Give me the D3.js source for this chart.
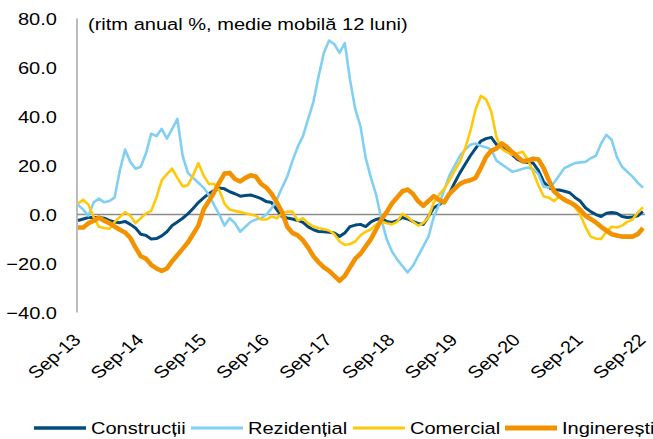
<!DOCTYPE html>
<html>
<head>
<meta charset="utf-8">
<script src="https://cdn.jsdelivr.net/npm/d3@7"></script>
<style>
  body { margin: 0; background: #fff; }
  text { font-family: "Liberation Sans", Arial, sans-serif; fill: #000; }
</style>
</head>
<body>
<svg width="653" height="439"></svg>
<script>
const constructii = [
  -2.4, -1.8, -1.2, -1.2, -1.2, -1.5, -2.4, -3, -3.3, -2.8, -4, -5.5,
  -8, -8.5, -10, -9.8, -8.7, -7, -4.5, -3, -1.5, 0.3, 2.5, 4.9,
  6.8, 8.5, 9.8, 10.8, 10.5, 9.3, 8.5, 7.5, 7.8, 8, 7.3, 6.5,
  5.3, 4.9, 2, -0.8, -1.4, -1.8, -2.4, -3.2, -5, -6.2, -6.9, -7,
  -7.2, -7.5, -8.9, -7.5, -4.9, -4.3, -4, -4.9, -3, -2, -1.4, -2.8,
  -3.2, -2.5, -1.2, -1.8, -2.8, -3.6, -4, -0.8, 2.8, 4, 5.5, 8.5,
  13, 17, 20.5, 24, 27, 30, 31, 31.5, 28.5, 27.5, 26, 24.4,
  22.5, 21.5, 21.2, 21, 18, 13.4, 11, 10, 10, 9.5, 8.9, 7,
  5.5, 2.8, 1.2, 0, -0.8, 0.5, 0.8, 0.5, -0.8, -1.2, -1, -0.5, 1.2
];
const rezidential = [
  4, 2, -0.5, 5, 6.5, 5, 5.5, 7, 18, 26.5, 21.5, 18.7,
  19.5, 25, 33, 32, 35, 31, 35, 39, 24, 17, 15, 13,
  11, 8, 4, 0, -4.5, -1.5, -3.5, -7, -5, -3, -2, -1.5,
  0, 2.5, 6, 11, 15.5, 22, 27.6, 32, 39, 46, 56.5, 66,
  71, 69.5, 66, 70, 55, 43, 36, 23, 15, 8, -2, -10,
  -15, -18.3, -21, -23.6, -21, -17, -13, -9, -1, 4, 10, 16,
  20, 24, 26.5, 28.5, 29, 28, 27.5, 26.4, 22, 20.5, 19, 17.5,
  18, 18.7, 19.2, 18.5, 16.5, 11.4, 11, 13, 16, 19, 20, 21,
  21.3, 21.5, 23, 24, 29, 32.5, 30.5, 23.5, 19.5, 17.5, 15.5, 13, 11
];
const comercial = [
  4.5, 6, 4, -1, -5, -5.5, -5.8, -3, -1, 1, -0.5, -3.5,
  -1.5, 0.5, 1.5, 7, 14, 16.5, 18.7, 15, 11.5, 12, 16, 21,
  16, 12.5, 12.5, 10, 4.5, 2, 1.5, 1, 0.5, 0, -0.5, -2,
  -2, -0.8, -1.5, 0.5, 1.2, 1.2, -2.5, -1.5, -3.5, -4.9, -5.5, -6,
  -6.5, -8, -11, -12.4, -12, -11, -8.5, -7, -6, -4, -2.8, -3.5,
  -4, -3, 0.3, -1, -2.8, -4.5, -3.5, -1, 4.9, 8, 10.5, 14,
  18, 21.5, 27, 34, 43, 48.4, 47, 42, 31.5, 26.8, 25.5, 24.4,
  25, 25.6, 22.4, 17.5, 12, 7.5, 6.9, 5.5, 7.5, 6.5, 5, 3,
  0, -5, -9, -9.8, -10, -7, -5, -5.3, -4.5, -3, -2, 0.8, 3
];
const ingineresti = [
  -5.3, -5.3, -3.5, -2.5, -1.2, -2.5, -3.5, -4.9, -6.2, -7.3, -9.5, -13.5,
  -17, -18, -20.5, -22, -23, -22, -19, -16.5, -14, -11.4, -8, -4.5,
  2, 5.5, 9, 13, 16.7, 17, 14.5, 13.5, 15, 16, 15.5, 12.5,
  11, 8.5, 5, 1, -5, -7.5, -8.5, -10.5, -13.5, -17, -19.5, -21.5,
  -23, -25, -27, -25, -21.5, -18, -16, -13, -10, -6, -2, 1,
  4.5, 7, 9.5, 10.2, 8.5, 5.5, 3.6, 5.5, 7.5, 6, 5, 8.5,
  10.5, 12.5, 13.5, 14, 15, 19, 23.5, 26, 27, 29, 27.5, 25.5,
  23.6, 21.8, 22, 22.8, 22.5, 19, 14, 9.5, 7.5, 6, 5, 3.8,
  2, -0.5, -1.8, -3.2, -5, -6.5, -8, -8.5, -9, -9, -9, -8, -5.5
];
const yTicks = [80, 60, 40, 20, 0, -20, -40];
const xTickLabels = ['Sep-13', 'Sep-14', 'Sep-15', 'Sep-16', 'Sep-17', 'Sep-18', 'Sep-19', 'Sep-20', 'Sep-21', 'Sep-22'];
const seriesNames = ['Construcții', 'Rezidențial', 'Comercial', 'Inginerești'];
const title = '(ritm anual %, medie mobilă 12 luni)';

const months = d3.range(constructii.length);
const series = [
  { name: seriesNames[0], values: constructii, color: '#024b7a', width: 3 },
  { name: seriesNames[1], values: rezidential, color: '#82cff4', width: 2.6 },
  { name: seriesNames[2], values: comercial, color: '#ffc90a', width: 2.6 },
  { name: seriesNames[3], values: ingineresti, color: '#f39200', width: 4.6 }
];

const sx = 1.18; // text in the reference is stretched horizontally
const svg = d3.select('svg');
const x = d3.scaleLinear().domain([0, months.length - 1]).range([78, 643]);
const y = d3.scaleLinear().domain([-40, 80]).range([312.6, 18.5]);

// y axis line and labels
svg.append('line')
  .attr('x1', 77).attr('x2', 77)
  .attr('y1', y(80)).attr('y2', y(-40))
  .attr('stroke', '#a6a6a6').attr('stroke-width', 1.5);

svg.selectAll('.ylab')
  .data(yTicks)
  .enter()
  .append('text')
  .attr('class', 'ylab')
  .attr('transform', (d) => `translate(57,${y(d) + 6}) scale(${sx},1)`)
  .attr('text-anchor', 'end')
  .attr('font-size', '17px')
  .text((d) => d3.format('.1f')(d));

// zero line
svg.append('line')
  .attr('x1', 77).attr('x2', 645)
  .attr('y1', y(0)).attr('y2', y(0))
  .attr('stroke', '#8c8c8c').attr('stroke-width', 1.5);

// x labels
svg.selectAll('.xlab')
  .data(xTickLabels)
  .enter()
  .append('text')
  .attr('class', 'xlab')
  .attr('transform', (d, i) => `translate(${x(i * 12) + 4},341) scale(${sx},1) rotate(-45)`)
  .attr('text-anchor', 'end')
  .attr('font-size', '17px')
  .text((d) => d);

// lines
const line = d3.line()
  .x((d, i) => x(i))
  .y((d) => y(d));

svg.selectAll('.series')
  .data(series)
  .enter()
  .append('path')
  .attr('class', 'series')
  .attr('fill', 'none')
  .attr('stroke', (d) => d.color)
  .attr('stroke-width', (d) => d.width)
  .attr('stroke-linejoin', 'round')
  .attr('d', (d) => line(d.values));

// title
svg.append('text')
  .attr('transform', `translate(88,30) scale(${sx},1)`)
  .attr('font-size', '17px')
  .text(title);

// legend
const legendX = [34, 191, 353, 505];
const leg = svg.selectAll('.leg')
  .data(series)
  .enter()
  .append('g')
  .attr('class', 'leg')
  .attr('transform', (d, i) => `translate(${legendX[i]},428)`);
leg.append('line')
  .attr('x1', 0).attr('x2', 52)
  .attr('stroke', (d) => d.color)
  .attr('stroke-width', (d) => d.width + 0.5);
leg.append('text')
  .attr('transform', `translate(57,6) scale(${sx},1)`)
  .attr('font-size', '17px')
  .text((d) => d.name);
</script>
</body>
</html>
